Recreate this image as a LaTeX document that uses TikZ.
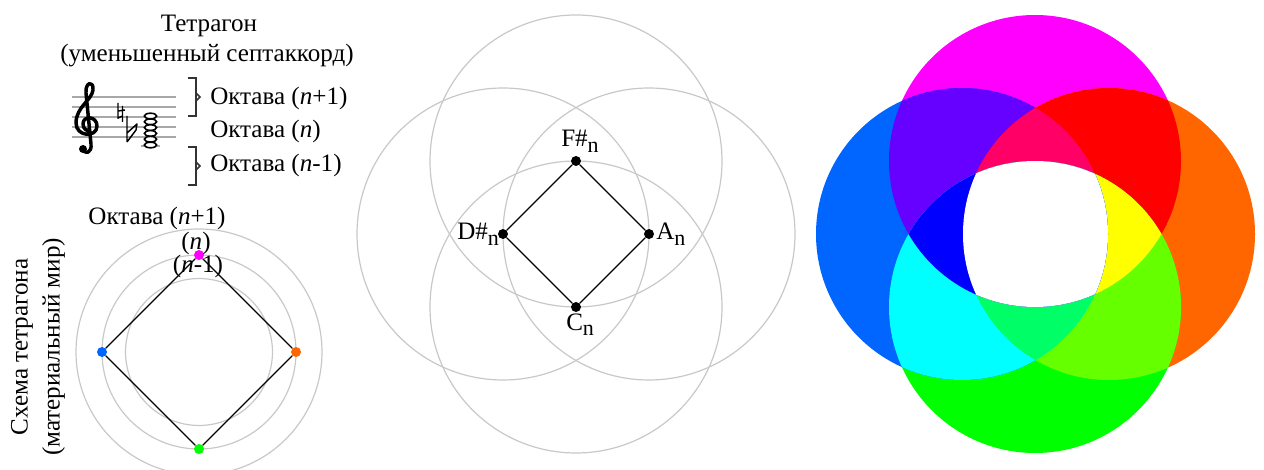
\documentclass[tikz,border=0pt]{standalone}
\usepackage{fontspec}
\setmainfont{Liberation Serif}
\definecolor{cM}{HTML}{FF00FF}
\definecolor{cO}{HTML}{FF6600}
\definecolor{cG}{HTML}{00FF00}
\definecolor{cB}{HTML}{0066FF}
\definecolor{cMB}{HTML}{6600FF}
\definecolor{cMO}{HTML}{FF0000}
\definecolor{cOG}{HTML}{66FF00}
\definecolor{cGB}{HTML}{00FFFF}
\definecolor{cMBO}{HTML}{FF0066}
\definecolor{cMOG}{HTML}{FFFF00}
\definecolor{cOGB}{HTML}{00FF66}
\definecolor{cGBM}{HTML}{0000FF}
\definecolor{ring}{HTML}{C8C8C8}
\definecolor{staff}{HTML}{A8A8A8}
\newcommand{\sub}{\raisebox{-0.5ex}{\fontsize{16.5}{16.5}\selectfont n}}
\begin{document}
\begin{tikzpicture}[x=0.75pt,y=-0.75pt,
  font=\fontsize{18.8}{22}\selectfont,
  gc/.style={draw=ring, line width=0.9pt},
  edge/.style={draw=black, line width=0.9pt},
  dot/.style={circle, fill=black, inner sep=0pt, minimum size=7.5pt},
  cdot/.style={circle, fill=#1, inner sep=0pt, minimum size=7.5pt},
  lbl/.style={inner sep=0pt},
  brk/.style={draw=black!80, line width=1.2pt},
  note/.style={draw=black, fill=white, line width=1.2pt}]
\useasboundingbox (0,0) rectangle (1264,470);
\def\R{109.5pt}

% ---------- top-left title and staff ----------
\node[lbl] (t1) at (209,26) {Тетрагон};
\node[lbl] (t2) at (207,56) {(уменьшенный септаккорд)};

\foreach \yy in {97,107,117,127,137}
  \draw[staff, line width=0.8pt] (72,\yy) -- (176,\yy);
\draw[staff, line width=0.8pt] (141,146) -- (160,146);
% treble clef
\draw[black, line width=2.6pt, line cap=round, line join=round]
  (83,149) .. controls (85,155) and (92,153) .. (91,144)
  -- (86,93) .. controls (85,82) and (94,80) .. (93,90)
  .. controls (92,100) and (76,107) .. (76,123)
  .. controls (76,137) and (97,138) .. (97,126)
  .. controls (97,116) and (83,115) .. (83,124)
  .. controls (83,129) and (87,131) .. (90,131);
\fill[black] (83,149) circle[radius=3pt];
% accidentals
\draw[black, line width=1.1pt] (118,103) -- (118,119) (122.5,106) -- (122.5,122)
  (118,111) -- (125,110) (118,118) -- (122.5,116);
\draw[black, line width=1.1pt, line join=round] (127,116) -- (127,142)
  (127,133) -- (137,124) -- (136,130) -- (127,142);
% notes
\foreach \yy in {116,121.8,127.6,133.4,139.2,145}
  \draw[note] (150.5,\yy) ellipse[x radius=4.6pt, y radius=2.1pt];
% brackets
\draw[brk] (188,78) -- (196,78) -- (196,116) -- (188,116);
\draw[brk] (196,93) -- (200,97) -- (196,101);
\draw[brk] (188,147) -- (196,147) -- (196,185) -- (188,185);
\draw[brk] (196,162) -- (200,166) -- (196,170);
\node[lbl, anchor=west] (o1) at (210,98) {Октава (\textit{n}+1)};
\node[lbl, anchor=west] (o2) at (210,131) {Октава (\textit{n})};
\node[lbl, anchor=west] (o3) at (210,165) {Октава (\textit{n}-1)};

% ---------- bottom-left scheme ----------
\coordinate (lc) at (199,352);
\draw[gc] (lc) circle[radius=92.25pt];
\draw[gc] (lc) circle[radius=72.75pt];
\draw[gc] (lc) circle[radius=55.1pt];
\node[cdot=cM] (lt) at (199,255) {};
\node[cdot=cO] (lr) at (296,352) {};
\node[cdot=cG] (lb) at (199,449) {};
\node[cdot=cB] (ll) at (102,352) {};
\draw[edge] (lt) -- (lr) -- (lb) -- (ll) -- (lt);
\node[lbl] (la) at (157,218) {Октава (\textit{n}+1)};
\node[lbl] (lb2) at (196,243) {(\textit{n})};
\node[lbl] (lc2) at (198,266) {(\textit{n}-1)};
\node[lbl, rotate=90, align=center, font=\fontsize{18.8}{24}\selectfont] (rot) at (38,347)
  {Схема тетрагона\\(материальный мир)};

% ---------- middle diagram ----------
\coordinate (Fs) at (576,161);
\coordinate (An) at (649,234);
\coordinate (Cn) at (576,307);
\coordinate (Ds) at (503,234);
\foreach \p in {Fs,An,Cn,Ds} \draw[gc] (\p) circle[radius=\R];
\node[dot] (nF) at (Fs) {};
\node[dot] (nA) at (An) {};
\node[dot] (nC) at (Cn) {};
\node[dot] (nD) at (Ds) {};
\draw[edge] (nF) -- (nA) -- (nC) -- (nD) -- (nF);
\node[lbl, anchor=base west] (lF) at (561,147) {F\#\sub};
\node[lbl, anchor=base west] (lA) at (656,240) {A\sub};
\node[lbl, anchor=base west] (lC) at (566,330) {C\sub};
\node[lbl, anchor=base west] (lD) at (457,240) {D\#\sub};

% ---------- right colour diagram ----------
\coordinate (M) at (1035,161);
\coordinate (O) at (1109,234);
\coordinate (G) at (1035,307);
\coordinate (B) at (962,234);
\fill[cM] (M) circle[radius=\R];
\fill[cO] (O) circle[radius=\R];
\fill[cG] (G) circle[radius=\R];
\fill[cB] (B) circle[radius=\R];
\begin{scope}\clip (M) circle[radius=\R]; \fill[cMB] (B) circle[radius=\R];\end{scope}
\begin{scope}\clip (M) circle[radius=\R]; \fill[cMO] (O) circle[radius=\R];\end{scope}
\begin{scope}\clip (O) circle[radius=\R]; \fill[cOG] (G) circle[radius=\R];\end{scope}
\begin{scope}\clip (G) circle[radius=\R]; \fill[cGB] (B) circle[radius=\R];\end{scope}
\begin{scope}\clip (M) circle[radius=\R]; \clip (B) circle[radius=\R]; \fill[cMBO] (O) circle[radius=\R];\end{scope}
\begin{scope}\clip (M) circle[radius=\R]; \clip (O) circle[radius=\R]; \fill[cMOG] (G) circle[radius=\R];\end{scope}
\begin{scope}\clip (O) circle[radius=\R]; \clip (G) circle[radius=\R]; \fill[cOGB] (B) circle[radius=\R];\end{scope}
\begin{scope}\clip (G) circle[radius=\R]; \clip (B) circle[radius=\R]; \fill[cGBM] (M) circle[radius=\R];\end{scope}
\begin{scope}\clip (M) circle[radius=\R]; \clip (O) circle[radius=\R]; \clip (G) circle[radius=\R]; \fill[white] (B) circle[radius=\R];\end{scope}
\end{tikzpicture}
\end{document}
